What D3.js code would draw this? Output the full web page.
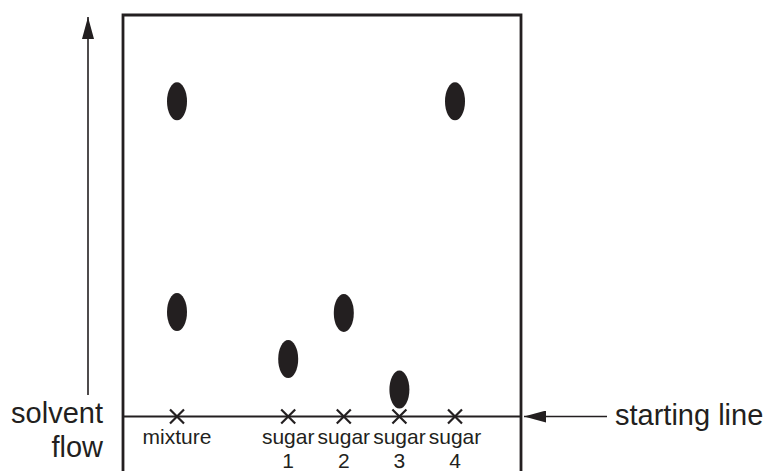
<!DOCTYPE html>
<html lang="en">
<head>
    <meta charset="UTF-8">
    <title>Chromatogram</title>
    <style>
        body { margin: 0; background: #fff; }
        text { font-family: "Liberation Sans", Arial, sans-serif; fill: #231f20; }
    </style>
</head>
<body>
    <div id="wrapper"></div>
    <script src="https://d3js.org/d3.v7.min.js"></script>
    <script>
        // lanes along the starting line ("" is the empty space after the mixture)
        const lanes = ['mixture', '', 'sugar 1', 'sugar 2', 'sugar 3', 'sugar 4'];
        const laneNames = ['mixture', 'sugar', 'sugar', 'sugar', 'sugar'];
        const laneNumbers = ['', '1', '2', '3', '4'];
        const spotLanes = ['mixture', 'mixture', 'sugar 1', 'sugar 2', 'sugar 3', 'sugar 4'];
        // distance travelled by each spot, as a fraction of the paper height above the start
        const spotRf = [0.785, 0.26, 0.143, 0.258, 0.067, 0.785];

        const width = 770, height = 471;
        const ink = '#231f20';

        const svg = d3.select('#wrapper').append('svg')
            .attr('width', width)
            .attr('height', height);

        // paper box
        const paper = { left: 123, right: 521, top: 15, startY: 416.5 };

        const x = d3.scalePoint()
            .domain(lanes)
            .range([177, 455]);

        const y = d3.scaleLinear()
            .domain([0, 1])
            .range([paper.startY, paper.top]);

        svg.append('defs').append('marker')
            .attr('id', 'head')
            .attr('viewBox', '0 0 22 12')
            .attr('refX', 22)
            .attr('refY', 6)
            .attr('markerWidth', 22)
            .attr('markerHeight', 12)
            .attr('markerUnits', 'userSpaceOnUse')
            .attr('orient', 'auto')
            .append('path')
            .attr('d', 'M0,0 L22,6 L0,12 Z')
            .attr('fill', ink);

        // paper outline (bottom runs off the page)
        svg.append('path')
            .attr('d', `M${paper.left},${height + 10} V${paper.top} H${paper.right} V${height + 10}`)
            .attr('fill', 'none')
            .attr('stroke', ink)
            .attr('stroke-width', 2.8);

        // starting line
        svg.append('line')
            .attr('x1', paper.left).attr('x2', paper.right)
            .attr('y1', y(0)).attr('y2', y(0))
            .attr('stroke', ink)
            .attr('stroke-width', 2.2);

        // crosses on the starting line
        const crossLanes = lanes.filter(d => d !== '');
        svg.selectAll('path.cross')
            .data(crossLanes)
            .enter()
            .append('path')
            .attr('class', 'cross')
            .attr('d', d => {
                const cx = x(d), cy = y(0), s = 7;
                return `M${cx - s},${cy - s} L${cx + s},${cy + s} M${cx - s},${cy + s} L${cx + s},${cy - s}`;
            })
            .attr('stroke', ink)
            .attr('stroke-width', 2.2)
            .attr('fill', 'none');

        // lane labels
        svg.selectAll('text.lane')
            .data(crossLanes)
            .enter()
            .append('text')
            .attr('class', 'lane')
            .attr('x', d => x(d))
            .attr('y', 444)
            .attr('text-anchor', 'middle')
            .attr('font-size', '21px')
            .text((d, i) => laneNames[i]);

        svg.selectAll('text.num')
            .data(crossLanes)
            .enter()
            .append('text')
            .attr('class', 'num')
            .attr('x', d => x(d))
            .attr('y', 468)
            .attr('text-anchor', 'middle')
            .attr('font-size', '21px')
            .text((d, i) => laneNumbers[i]);

        // spots
        svg.selectAll('ellipse')
            .data(spotRf)
            .enter()
            .append('ellipse')
            .attr('cx', (d, i) => x(spotLanes[i]))
            .attr('cy', d => y(d))
            .attr('rx', 10)
            .attr('ry', 19)
            .attr('fill', ink);

        // solvent flow arrow
        svg.append('line')
            .attr('x1', 88).attr('x2', 88)
            .attr('y1', 395).attr('y2', 17)
            .attr('stroke', ink)
            .attr('stroke-width', 1.6)
            .attr('marker-end', 'url(#head)');

        svg.append('text')
            .attr('x', 103).attr('y', 423)
            .attr('text-anchor', 'end')
            .attr('font-size', '29px')
            .text('solvent');
        svg.append('text')
            .attr('x', 103).attr('y', 457)
            .attr('text-anchor', 'end')
            .attr('font-size', '29px')
            .text('flow');

        // starting line pointer
        svg.append('line')
            .attr('x1', 607).attr('x2', 524)
            .attr('y1', y(0)).attr('y2', y(0))
            .attr('stroke', ink)
            .attr('stroke-width', 1.6)
            .attr('marker-end', 'url(#head)');

        svg.append('text')
            .attr('x', 615).attr('y', 425)
            .attr('font-size', '29px')
            .text('starting line');
    </script>
</body>
</html>
